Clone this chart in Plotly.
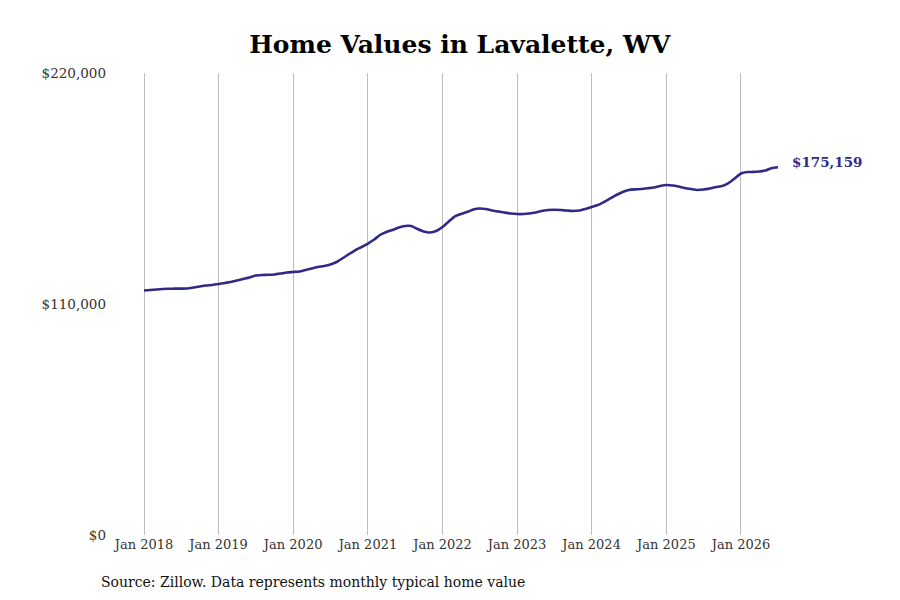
import plotly.graph_objects as go
import pandas as pd

# monthly typical home value, Jan 2018 - Jul 2026
months = pd.date_range("2018-01-01", "2026-07-01", freq="MS")
values = [
    116400, 116650, 116900, 117150, 117250, 117300, 117300, 117350, 117850, 118350, 118800, 119050,
    119500, 120000, 120500, 121200, 121900, 122600, 123550, 123800, 123900, 124050, 124500, 125000,
    125250, 125500, 126200, 126900, 127600, 128100, 128800, 130000, 131900, 133800, 135700, 137150,
    138800, 140700, 142850, 144300, 145250, 146450, 147150, 147100, 145700, 144500, 144050, 144750,
    146650, 149300, 151650, 152850, 153800, 155000, 155500, 155250, 154500, 154050, 153550, 153100,
    152850, 152850, 153100, 153550, 154300, 154750, 154900, 154750, 154500, 154300, 154500, 155250,
    156200, 157150, 158550, 160250, 161900, 163350, 164300, 164600, 164750, 165100, 165500, 166200,
    166650, 166450, 165950, 165250, 164750, 164300, 164500, 165000, 165700, 166200, 167600, 169750,
    172150, 172850, 172900, 173100, 173550, 174750, 175159,
]
last_label = "$175,159"

y_ticks = [0, 110000, 220000]
y_tick_text = ["$0", "$110,000", "$220,000"]
x_ticks = pd.date_range("2018-01-01", "2026-01-01", freq="YS")
x_tick_text = [d.strftime("Jan %Y") for d in x_ticks]

line_color = "#2e2b87"
font_family = "DejaVu Serif"

fig = go.Figure()
fig.add_trace(go.Scatter(
    x=months, y=values, mode="lines",
    line=dict(color=line_color, width=2.6, shape="spline", smoothing=0.6),
    hoverinfo="skip", showlegend=False,
))

# end-of-line value label
fig.add_annotation(
    x=months[-1], y=values[-1], text="<b>" + last_label + "</b>",
    showarrow=False, xanchor="left", yanchor="middle",
    xshift=12, yshift=5,
    font=dict(family=font_family, size=13.5, color=line_color),
)

fig.add_annotation(
    text="Source: Zillow. Data represents monthly typical home value",
    xref="paper", yref="paper", x=-0.0237, y=-0.1017,
    xanchor="left", yanchor="middle", showarrow=False,
    font=dict(family=font_family, size=14, color="#111111"),
)

fig.update_layout(
    width=900, height=600,
    paper_bgcolor="white", plot_bgcolor="white",
    margin=dict(l=107, r=118, t=65, b=73),
    title=dict(
        text="<b>Home Values in Lavalette, WV</b>",
        x=0.502, xanchor="center", y=0.94, yanchor="middle",
        font=dict(family=font_family, size=25, color="black"),
    ),
    xaxis=dict(
        range=["2017-08-12", "2026-08-29"],
        tickvals=x_ticks, ticktext=x_tick_text,
        showgrid=True, gridcolor="#bdbdbd", gridwidth=1,
        zeroline=False, showline=False, ticks="",
        tickfont=dict(family=font_family, size=13, color="#333333"),
    ),
    yaxis=dict(
        range=[0, 220000],
        tickvals=y_ticks, ticktext=y_tick_text,
        showgrid=False, zeroline=False, showline=False, ticks="",
        tickfont=dict(family=font_family, size=13.5, color="#333333"),
        ticklabelstandoff=8,
    ),
)

fig.write_html("out.html")
